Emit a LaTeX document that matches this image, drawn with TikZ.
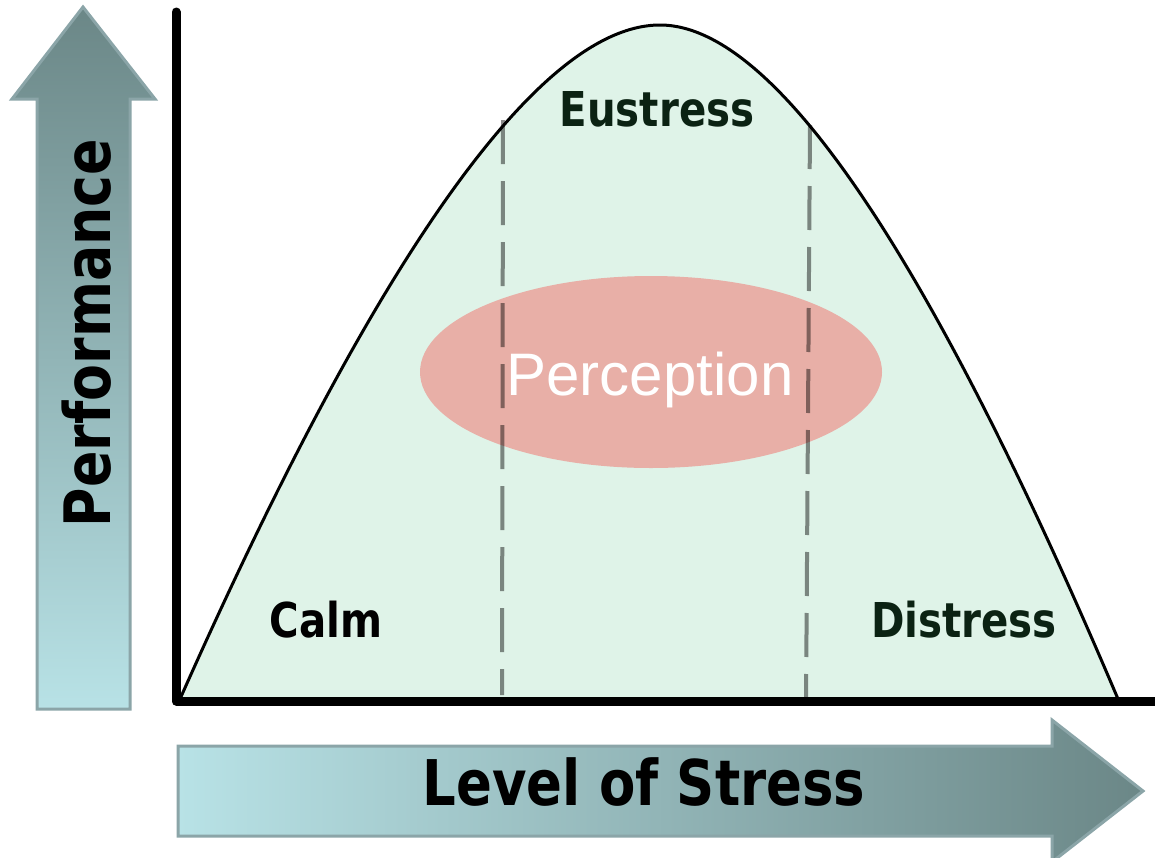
\documentclass[tikz,border=0pt]{standalone}
\usepackage{fontspec}
\setmainfont{Liberation Sans}
\newfontfamily\labelfont[FakeStretch=0.84]{DejaVu Sans}
\usepackage{tikz}

\definecolor{menta}{HTML}{DFF3E8}
\definecolor{rosa}{HTML}{EE827D}
\definecolor{verdescuro}{HTML}{0B2213}
\definecolor{chiaro}{HTML}{B8E2E6}
\definecolor{scuro}{HTML}{6B8787}
\definecolor{bordo}{HTML}{8BA5A8}

\begin{document}
\begin{tikzpicture}[
    x=1pt, y=-1pt,
    line cap=round,
    line join=round,
    etichetta/.style={font=\labelfont\bfseries\fontsize{48}{48}\selectfont, inner sep=0pt, anchor=base},
    freccia/.style={draw=bordo, line width=3pt, line join=miter}
]
\useasboundingbox (0,0) rectangle (1155,857);

% Frecce a blocco
\shadedraw[freccia, top color=scuro, bottom color=chiaro]
    (37,709) -- (37,99) -- (12,99) -- (83,7) -- (155,99) -- (130,99) -- (130,709) -- cycle;
\shadedraw[freccia, left color=chiaro, right color=scuro]
    (178,746) -- (1052,746) -- (1052,720) -- (1143,791) -- (1052,862) -- (1052,836) -- (178,836) -- cycle;

% Curva a campana
\filldraw[fill=menta, line width=3pt]
    (180,699) .. controls (341,336) and (520,25) .. (660,25)
    .. controls (794,25) and (964,336) .. (1118,699) -- cycle;

% Ellisse
\fill[rosa, opacity=0.6] (651,372) ellipse [x radius=231, y radius=96];

% Linee tratteggiate
\foreach \xa/\ya/\xb/\yb in {
    503/120/502/695,
    810/125/806/705
}{
    \draw[black, opacity=0.45, line width=4pt, line cap=butt, dash pattern=on 44pt off 17pt]
        (\xa,\ya) -- (\xb,\yb);
}

% Assi
\draw[line width=9pt] (176,12) -- (176,701) -- (1160,701);

% Etichette
\node[etichetta, text=verdescuro] (eustress) at (657,126) {Eustress};
\node[etichetta] (calm) at (326,637) {Calm};
\node[etichetta, text=verdescuro] (distress) at (964,637) {Distress};
\node[inner sep=0pt, anchor=base, text=white, font=\fontsize{60}{60}\selectfont] (perception) at (650,395) {Perception};
\node[etichetta, font=\labelfont\bfseries\fontsize{64}{64}\selectfont, rotate=90] (performance) at (110,333) {Performance};
\node[etichetta, font=\labelfont\bfseries\fontsize{63}{63}\selectfont] (livello) at (644,805) {Level of Stress};

\end{tikzpicture}
\end{document}
